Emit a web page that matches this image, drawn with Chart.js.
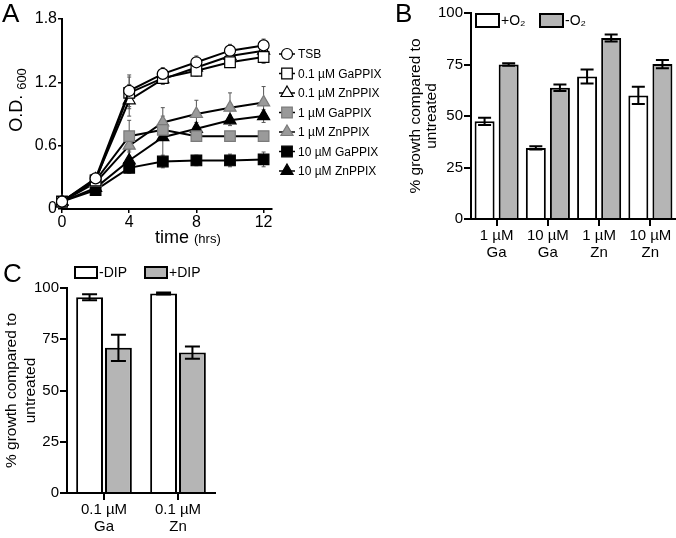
<!DOCTYPE html>
<html>
<head>
<meta charset="utf-8">
<script src="https://cdn.jsdelivr.net/npm/chart.js@4"></script>
<style>
  body { margin: 0; background: #fff; width: 676px; height: 538px; position: relative; overflow: hidden;
         font-family: 'Liberation Sans', Arial, Helvetica, sans-serif; color: #000; }
  canvas { position: absolute; }
  .txt { position: absolute; white-space: nowrap; color: #000; }
  .letter { font-size: 26px; line-height: 26px; }
  sub { font-size: 13px; line-height: 0; vertical-align: -4px; margin-left: 5px; }
</style>
</head>
<body>
<canvas id="chartA" width="400" height="230" style="left:0;top:0"></canvas>
<canvas id="chartB" width="276" height="290" style="left:400px;top:0"></canvas>
<canvas id="chartC" width="280" height="278" style="left:0;top:260px"></canvas>

<div class="txt letter" style="left:2px;top:0">A</div>
<div class="txt letter" style="left:395px;top:0">B</div>
<div class="txt letter" style="left:3px;top:260px">C</div>
<div class="txt" style="left:-29px;top:89px;width:90px;height:22px;line-height:22px;font-size:18px;text-align:center;transform:rotate(-90deg)">O.D.<sub>600</sub></div>
<div class="txt" style="left:155px;top:226px;line-height:22px;font-size:18px">time <span style="font-size:13px">(hrs)</span></div>

<script>
const FONT = "'Liberation Sans', Arial, Helvetica, sans-serif";

// panel A - growth curves
const timePoints = [0, 2, 4, 6, 8, 10, 12];
const odTSB   = [0.07, 0.29, 1.12, 1.28, 1.39, 1.50, 1.55];
const odGa01  = [0.07, 0.27, 1.10, 1.24, 1.31, 1.39, 1.44];
const odZn01  = [0.07, 0.28, 1.03, 1.23, 1.34, 1.45, 1.50];
const odGa1   = [0.07, 0.27, 0.69, 0.75, 0.69, 0.69, 0.69];
const odZn1   = [0.07, 0.25, 0.60, 0.82, 0.90, 0.96, 1.01];
const odGa10  = [0.07, 0.18, 0.39, 0.45, 0.46, 0.46, 0.47];
const odZn10  = [0.07, 0.20, 0.46, 0.68, 0.76, 0.84, 0.88];
const errTSB  = [0.01, 0.02, 0.15, 0.06, 0.06, 0.06, 0.06];
const errGa01 = [0.01, 0.02, 0.15, 0.05, 0.05, 0.05, 0.06];
const errZn01 = [0.01, 0.02, 0.15, 0.05, 0.05, 0.05, 0.06];
const errGa1  = [0.01, 0.02, 0.15, 0.05, 0.04, 0.03, 0.03];
const errZn1  = [0.01, 0.02, 0.12, 0.14, 0.13, 0.14, 0.15];
const errGa10 = [0.01, 0.02, 0.05, 0.06, 0.05, 0.06, 0.07];
const errZn10 = [0.01, 0.02, 0.10, 0.20, 0.06, 0.05, 0.06];
const odTicks = [0, 0.6, 1.2, 1.8];

// panel B - oxygen
const oxygenCats = [['1 µM', 'Ga'], ['10 µM', 'Ga'], ['1 µM', 'Zn'], ['10 µM', 'Zn']];
const plusO2     = [47.4, 34.5, 69.2, 60.0];
const plusO2Err  = [1.8, 0.8, 3.4, 4.2];
const minusO2    = [75.0, 63.7, 87.9, 75.2];
const minusO2Err = [0.6, 1.6, 1.7, 2.0];

// panel C - DIP
const dipCats    = [['0.1 µM', 'Ga'], ['0.1 µM', 'Zn']];
const minusDIP    = [95.5, 97.3];
const minusDIPErr = [1.5, 0.5];
const plusDIP     = [70.8, 68.5];
const plusDIPErr  = [6.4, 3.0];

const GRAY = '#b5b5b5';

// draws +/- error bars from dataset.errors using the y scale
const errorBars = {
  id: 'errorBars',
  draw(chart, opts) {
    const ctx = chart.ctx;
    const yScale = chart.scales.y;
    ctx.save();
    ctx.strokeStyle = opts.color;
    ctx.lineWidth = opts.width;
    chart.data.datasets.forEach((ds, i) => {
      if (!ds.errors) return;
      const meta = chart.getDatasetMeta(i);
      meta.data.forEach((el, j) => {
        const raw = ds.data[j];
        const v = typeof raw === 'object' ? raw.y : raw;
        const e = ds.errors[j];
        const top = yScale.getPixelForValue(v + e);
        const bot = yScale.getPixelForValue(v - e);
        const x = el.x;
        ctx.beginPath();
        ctx.moveTo(x, top); ctx.lineTo(x, bot);
        ctx.moveTo(x - opts.cap, top); ctx.lineTo(x + opts.cap, top);
        ctx.moveTo(x - opts.cap, bot); ctx.lineTo(x + opts.cap, bot);
        ctx.stroke();
      });
    });
    ctx.restore();
  },
  beforeDatasetsDraw(chart, args, opts) { if (opts.under) this.draw(chart, opts); },
  afterDatasetsDraw(chart, args, opts) { if (!opts.under) this.draw(chart, opts); }
};

// legend with line + marker, one row per dataset
const markerLegend = {
  id: 'markerLegend',
  afterDraw(chart, args, opts) {
    const ctx = chart.ctx;
    ctx.save();
    ctx.font = opts.font;
    ctx.textBaseline = 'middle';
    chart.data.datasets.forEach((ds, i) => {
      const y = opts.y + i * opts.step;
      ctx.strokeStyle = '#000';
      ctx.lineWidth = 1.5;
      ctx.beginPath();
      ctx.moveTo(opts.x - 8, y); ctx.lineTo(opts.x + 8, y);
      ctx.stroke();
      ctx.fillStyle = ds.pointBackgroundColor;
      ctx.strokeStyle = ds.pointBorderColor;
      ctx.lineWidth = ds.pointBorderWidth;
      Chart.helpers.drawPoint(ctx, { pointStyle: ds.pointStyle, radius: ds.pointRadius, rotation: 0, borderWidth: ds.pointBorderWidth }, opts.x, y);
      ctx.fillStyle = '#000';
      ctx.fillText(ds.label, opts.x + 11, y + 1);
    });
    ctx.restore();
  }
};

// legend with filled boxes placed at given x positions
const boxLegend = {
  id: 'boxLegend',
  afterDraw(chart, args, opts) {
    const ctx = chart.ctx;
    ctx.save();
    ctx.font = opts.font;
    ctx.textBaseline = 'middle';
    chart.data.datasets.forEach((ds, i) => {
      const x = opts.xs[i];
      ctx.fillStyle = ds.backgroundColor;
      ctx.fillRect(x, opts.y, opts.w, opts.h);
      ctx.strokeStyle = '#000';
      ctx.lineWidth = 2;
      ctx.strokeRect(x, opts.y, opts.w, opts.h);
      ctx.fillStyle = '#000';
      ctx.fillText(ds.label, x + opts.w + opts.gap, opts.y + opts.h / 2 + 1);
    });
    ctx.restore();
  }
};

function lineSet(label, values, errs, style, radius, fill, border) {
  return {
    label: label,
    data: values.map((v, i) => ({ x: timePoints[i], y: v })),
    errors: errs,
    borderColor: '#000',
    borderWidth: 2,
    tension: 0,
    clip: false,
    pointStyle: style,
    pointRadius: radius,
    pointBackgroundColor: fill,
    pointBorderColor: border,
    pointBorderWidth: 1.2
  };
}

const axisFont = { family: FONT, size: 16 };
const smallFont = { family: FONT, size: 15, lineHeight: 1.15 };

new Chart(document.getElementById('chartA'), {
  type: 'line',
  data: {
    datasets: [
      lineSet('TSB', odTSB, errTSB, 'circle', 5.5, '#fff', '#000'),
      lineSet('0.1 µM GaPPIX', odGa01, errGa01, 'rect', 7.5, '#fff', '#000'),
      lineSet('0.1 µM ZnPPIX', odZn01, errZn01, 'triangle', 7, '#fff', '#000'),
      lineSet('1 µM GaPPIX', odGa1, errGa1, 'rect', 7.5, '#9a9a9a', '#7a7a7a'),
      lineSet('1 µM ZnPPIX', odZn1, errZn1, 'triangle', 7, '#9a9a9a', '#7a7a7a'),
      lineSet('10 µM GaPPIX', odGa10, errGa10, 'rect', 7.5, '#000', '#000'),
      lineSet('10 µM ZnPPIX', odZn10, errZn10, 'triangle', 7, '#000', '#000')
    ]
  },
  options: {
    responsive: false,
    animation: false,
    layout: { padding: { top: 19, right: 128, left: 0, bottom: 0 } },
    scales: {
      x: {
        type: 'linear', min: 0, max: 12.5,
        ticks: { stepSize: 4, includeBounds: false, color: '#000', font: axisFont, padding: 0, maxRotation: 0 },
        grid: { drawOnChartArea: false, tickLength: 4, color: '#000', lineWidth: 1.5 },
        border: { color: '#000', width: 2 },
        afterFit: s => { s.height = 21; }
      },
      y: {
        min: 0, max: 1.8,
        afterBuildTicks: s => { s.ticks = odTicks.map(v => ({ value: v })); },
        ticks: { color: '#000', font: axisFont, padding: 1, callback: v => v === 0 ? '0' : v.toFixed(1) },
        grid: { drawOnChartArea: false, tickLength: 4, color: '#000', lineWidth: 1.5 },
        border: { color: '#000', width: 2 },
        afterFit: s => { s.width = 62; }
      }
    },
    plugins: {
      legend: { display: false },
      tooltip: { enabled: false },
      errorBars: { color: '#555', width: 1, cap: 2, under: true },
      markerLegend: { x: 287, y: 54, step: 19.5, font: '12px ' + FONT }
    }
  },
  plugins: [errorBars, markerLegend]
});

new Chart(document.getElementById('chartB'), {
  type: 'bar',
  data: {
    labels: oxygenCats,
    datasets: [
      { label: '+O₂', data: plusO2, errors: plusO2Err, backgroundColor: '#fff', borderColor: '#000', borderWidth: 2 },
      { label: '-O₂', data: minusO2, errors: minusO2Err, backgroundColor: GRAY, borderColor: '#000', borderWidth: 2 }
    ]
  },
  options: {
    responsive: false,
    animation: false,
    categoryPercentage: 0.94,
    barPercentage: 0.83,
    layout: { padding: { top: 13, right: 0, left: 0, bottom: 0 } },
    scales: {
      x: {
        ticks: { color: '#000', font: smallFont, padding: 1, maxRotation: 0, autoSkip: false },
        grid: { offset: false, drawOnChartArea: false, tickLength: 7, color: '#000', lineWidth: 2 },
        border: { color: '#000', width: 2 },
        afterFit: s => { s.height = 71; }
      },
      y: {
        min: 0, max: 100,
        ticks: { stepSize: 25, color: '#000', font: smallFont, padding: 1 },
        grid: { drawOnChartArea: false, tickLength: 7, color: '#000', lineWidth: 2 },
        border: { color: '#000', width: 2 },
        title: { display: true, text: ['% growth compared to', 'untreated'], color: '#000',
                 font: { family: FONT, size: 15.5, lineHeight: 1.03 }, padding: { top: 8, bottom: 0 } },
        afterFit: s => { s.width = 71; }
      }
    },
    plugins: {
      legend: { display: false },
      tooltip: { enabled: false },
      errorBars: { color: '#000', width: 2, cap: 6.5, under: false },
      boxLegend: { xs: [76, 140], y: 14, w: 23, h: 13, gap: 2, font: '14px ' + FONT }
    }
  },
  plugins: [errorBars, boxLegend]
});

new Chart(document.getElementById('chartC'), {
  type: 'bar',
  data: {
    labels: dipCats,
    datasets: [
      { label: '-DIP', data: minusDIP, errors: minusDIPErr, backgroundColor: '#fff', borderColor: '#000', borderWidth: 2 },
      { label: '+DIP', data: plusDIP, errors: plusDIPErr, backgroundColor: GRAY, borderColor: '#000', borderWidth: 2 }
    ]
  },
  options: {
    responsive: false,
    animation: false,
    categoryPercentage: 0.78,
    barPercentage: 0.93,
    layout: { padding: { top: 28, right: 65, left: 0, bottom: 0 } },
    scales: {
      x: {
        ticks: { color: '#000', font: smallFont, padding: 1, maxRotation: 0, autoSkip: false },
        grid: { offset: false, drawOnChartArea: false, tickLength: 7, color: '#000', lineWidth: 2 },
        border: { color: '#000', width: 2 },
        afterFit: s => { s.height = 45; }
      },
      y: {
        min: 0, max: 100,
        ticks: { stepSize: 25, color: '#000', font: smallFont, padding: 1 },
        grid: { drawOnChartArea: false, tickLength: 7, color: '#000', lineWidth: 2 },
        border: { color: '#000', width: 2 },
        title: { display: true, text: ['% growth compared to', 'untreated'], color: '#000',
                 font: { family: FONT, size: 15.5, lineHeight: 1.25 }, padding: { top: 2, bottom: 0 } },
        afterFit: s => { s.width = 67; }
      }
    },
    plugins: {
      legend: { display: false },
      tooltip: { enabled: false },
      errorBars: { color: '#000', width: 2, cap: 7.5, under: false },
      boxLegend: { xs: [75, 145], y: 7, w: 22, h: 11, gap: 2, font: '14px ' + FONT }
    }
  },
  plugins: [errorBars, boxLegend]
});
</script>
</body>
</html>
